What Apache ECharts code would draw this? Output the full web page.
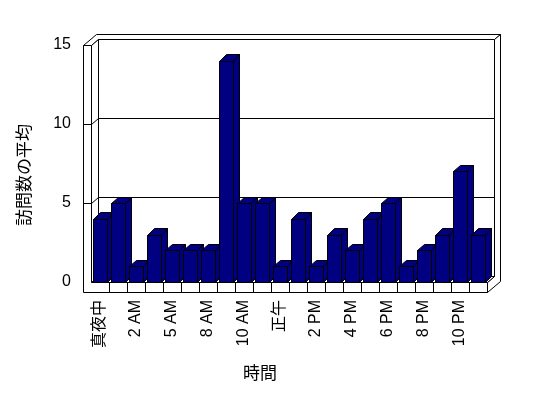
<!DOCTYPE html>
<html>
<head>
<meta charset="utf-8">
<script src="https://cdn.jsdelivr.net/npm/echarts@6/dist/echarts.min.js"></script>
<style>
  html, body { margin: 0; padding: 0; background: #fff; }
  #chart { width: 548px; height: 398px; }
</style>
</head>
<body>
<div id="chart"></div>
<script>
// hours shown on the chart (two hours have no data)
var hours = ['真夜中', '1 AM', '2 AM', '4 AM', '5 AM', '7 AM', '8 AM', '9 AM', '10 AM', '11 AM', '正午',
    '1 PM', '2 PM', '3 PM', '4 PM', '5 PM', '6 PM', '7 PM', '8 PM', '9 PM', '10 PM', '11 PM']
var visits = [4, 5, 1, 3, 2, 2, 2, 14, 5, 5, 1, 4, 1, 3, 2, 4, 5, 1, 2, 3, 7, 3]
var yTicks = [0, 5, 10, 15]

var FONT = '"Liberation Sans", "Noto Sans CJK JP", sans-serif'
var NAVY = '#000080'
var WALL_DEPTH = [7, -6]      // front of back wall
var BACK_DEPTH = [13.3, -10.7] // back of back wall
var WALL_W = 8.3
var FLOOR_H = 10
var BAR_DEPTH = [6.5, -6.5]

function px(v) { return Math.round(v) + 0.5 }

function poly(points, fill) {
    return {
        type: 'polygon',
        shape: { points: points.map(function (p) { return [px(p[0]), px(p[1])] }) },
        style: { fill: fill || '#fff', stroke: '#000', lineWidth: 1 }
    }
}

function line(a, b) {
    return {
        type: 'line',
        shape: { x1: px(a[0]), y1: px(a[1]), x2: px(b[0]), y2: px(b[1]) },
        style: { stroke: '#000', lineWidth: 1 }
    }
}

function renderWalls(params, api) {
    var bw = api.size([1, 0])[0]
    var x0 = api.coord([0, 0])[0] - bw / 2
    var x1 = api.coord([hours.length - 1, 0])[0] + bw / 2
    var yB = api.coord([0, 0])[1]
    var yT = api.coord([0, yTicks[yTicks.length - 1]])[1]
    var xL = x0 - WALL_W
    var d1 = WALL_DEPTH, d2 = BACK_DEPTH
    var kids = []

    // top of left wall + back wall
    kids.push(poly([[xL, yT], [x0, yT], [x0 + d1[0], yT + d1[1]], [x1 + d1[0], yT + d1[1]],
        [x1 + d2[0], yT + d2[1]], [xL + d2[0], yT + d2[1]]]))
    // back wall face
    kids.push(poly([[x0 + d1[0], yT + d1[1]], [x1 + d1[0], yT + d1[1]],
        [x1 + d1[0], yB + d1[1]], [x0 + d1[0], yB + d1[1]]]))
    // right side of back wall and floor
    kids.push(poly([[x1 + d1[0], yT + d1[1]], [x1 + d2[0], yT + d2[1]], [x1 + d2[0], yB + FLOOR_H + d2[1]],
        [x1, yB + FLOOR_H], [x1, yB], [x1 + d1[0], yB + d1[1]]]))
    // inner side of left wall
    kids.push(poly([[x0, yT], [x0 + d1[0], yT + d1[1]], [x0 + d1[0], yB + d1[1]], [x0, yB]]))
    // floor top
    kids.push(poly([[x0, yB], [x1, yB], [x1 + d1[0], yB + d1[1]], [x0 + d1[0], yB + d1[1]]]))
    // front faces of left wall and floor
    kids.push(poly([[xL, yT], [x0, yT], [x0, yB], [x1, yB], [x1, yB + FLOOR_H], [xL, yB + FLOOR_H]]))

    yTicks.slice(1, -1).forEach(function (v) {
        var y = api.coord([0, v])[1]
        kids.push(line([x0 + d1[0], y + d1[1]], [x1 + d1[0], y + d1[1]]))
        kids.push(line([x0, y], [x0 + d1[0], y + d1[1]]))
        kids.push(line([xL, y], [x0, y]))
    })
    for (var i = 1; i < hours.length; i++) {
        var x = x0 + i * bw
        kids.push(line([x, yB], [x, yB + FLOOR_H]))
    }
    return { type: 'group', children: kids }
}

function renderBar(params, api) {
    var i = api.value(0)
    var top = api.coord([i, api.value(1)])
    var base = api.coord([i, 0])
    var hw = api.size([1, 0])[0] * 0.38
    var l = top[0] - hw, r = top[0] + hw
    var dx = BAR_DEPTH[0], dy = BAR_DEPTH[1]
    return {
        type: 'group',
        children: [
            poly([[l, top[1]], [r, top[1]], [r, base[1]], [l, base[1]]], NAVY),
            poly([[l, top[1]], [l + dx, top[1] + dy], [r + dx, top[1] + dy], [r, top[1]]], NAVY),
            poly([[r, top[1]], [r + dx, top[1] + dy], [r + dx, base[1] + dy], [r, base[1]]], NAVY)
        ]
    }
}

var chart = echarts.init(document.getElementById('chart'), null, { renderer: 'canvas' })

chart.setOption({
    animation: false,
    backgroundColor: '#fff',
    textStyle: { fontFamily: FONT, color: '#000' },
    grid: { left: 91, right: 61, top: 45, bottom: 116 },
    xAxis: {
        type: 'category',
        data: hours,
        axisLine: { show: false },
        axisTick: { show: false },
        axisLabel: { rotate: 90, interval: 1, margin: 18, fontSize: 16, color: '#000', fontFamily: FONT }
    },
    yAxis: {
        type: 'value',
        min: 0,
        max: 15,
        interval: 5,
        axisLine: { show: false },
        axisTick: { show: false },
        splitLine: { show: false },
        axisLabel: { margin: 20, fontSize: 16, color: '#000', fontFamily: FONT }
    },
    graphic: [
        {
            type: 'text', x: 25, y: 175, rotation: Math.PI / 2,
            style: { text: '訪問数の平均', font: '17px ' + FONT, fill: '#000', align: 'center', verticalAlign: 'middle' }
        },
        {
            type: 'text', x: 260, y: 374,
            style: { text: '時間', font: '17px ' + FONT, fill: '#000', align: 'center', verticalAlign: 'middle' }
        }
    ],
    series: [
        {
            type: 'custom',
            silent: true,
            z: 1,
            data: [[0, 0]],
            renderItem: renderWalls
        },
        {
            type: 'custom',
            silent: true,
            z: 2,
            data: visits.map(function (v, i) { return [i, v] }),
            renderItem: renderBar
        }
    ]
})
</script>
</body>
</html>
